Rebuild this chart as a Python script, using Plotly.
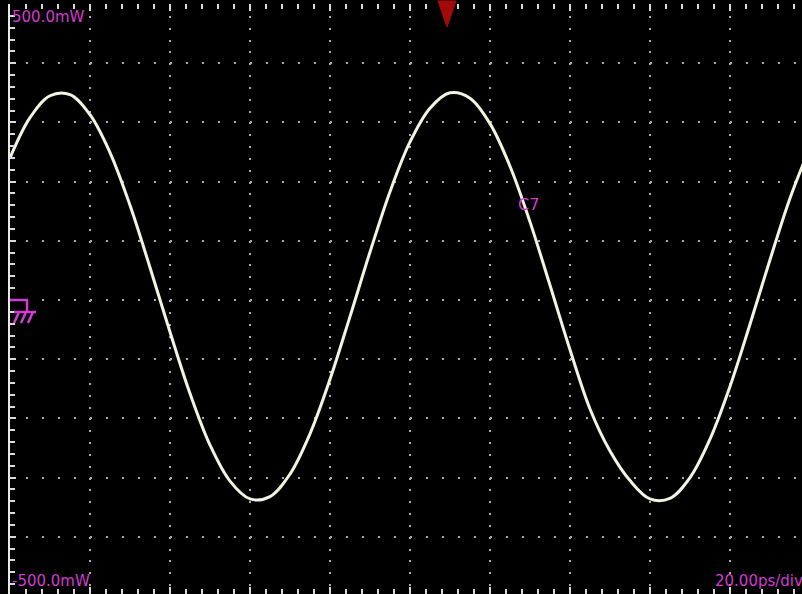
import plotly.graph_objects as go

# Waveform: time (ps) and power (mW)
time_ps = [0, 5, 10, 15, 20, 25, 30, 35, 40, 45, 50, 55, 60, 65, 70, 75, 80, 85, 90, 95,
           100, 105, 110, 115, 120, 125, 130, 135, 140, 145, 150, 155, 160, 165, 170, 175,
           180, 185, 190, 195, 200]
power_mw = [240, 308, 345, 347, 313, 249, 160, 55, -54, -158, -245, -306, -336, -332, -294,
            -226, -134, -28, 81, 183, 267, 324, 350, 341, 298, 226, 132, 25, -84, -184, -255,
            -305, -336, -335, -300, -235, -146, -41, 68, 172, 258]

TIME_PER_DIV = 20      # ps
POWER_PER_DIV = 100    # mW
TOP_LABEL = "500.0mW"
BOTTOM_LABEL = "-500.0mW"
TIMEBASE_LABEL = "20.00ps/div"
CHANNEL_LABEL = "C7"
TRIGGER_T = 109.25     # ps
GROUND_LEVEL = 0       # mW

MAGENTA = "#d23cd2"
GRID = "#acacac"
TICK = "#d8d8d8"
FONT = "DejaVu Sans"

fig = go.Figure()
fig.add_trace(go.Scatter(
    x=time_ps, y=power_mw, mode="lines",
    line=dict(color="#f4f4e2", width=3, shape="spline", smoothing=1.0),
    hoverinfo="skip",
))

fig.update_layout(
    width=802, height=594,
    margin=dict(l=10, r=0, t=4, b=0),
    paper_bgcolor="black", plot_bgcolor="black",
    showlegend=False,
    xaxis=dict(
        range=[0, 198], dtick=TIME_PER_DIV, tick0=0,
        showgrid=True, gridcolor=GRID, gridwidth=2, griddash="2px,9.84px",
        zeroline=False, showline=False, showticklabels=False,
        ticks="inside", ticklen=7, tickwidth=2, tickcolor=TICK, mirror="ticks",
        minor=dict(dtick=TIME_PER_DIV / 5, ticks="inside", ticklen=5, tickwidth=2,
                   tickcolor=TICK, showgrid=False),
        fixedrange=True,
    ),
    yaxis=dict(
        range=[-496.6, 500], dtick=POWER_PER_DIV, tick0=0,
        showgrid=True, gridcolor=GRID, gridwidth=2, griddash="2px,14px",
        zeroline=False, showline=True, linecolor="#e8e8e8", linewidth=2,
        showticklabels=False,
        ticks="inside", ticklen=6, tickwidth=2, tickcolor=TICK,
        minor=dict(dtick=POWER_PER_DIV / 5, ticks="inside", ticklen=5, tickwidth=2,
                   tickcolor=TICK, showgrid=False),
        fixedrange=True,
    ),
)

ann_font = dict(family=FONT, size=15, color=MAGENTA)
fig.add_annotation(text=TOP_LABEL, xref="paper", yref="paper", x=0.0, y=0.9966,
                   xanchor="left", yanchor="top", showarrow=False, font=ann_font)
fig.add_annotation(text=BOTTOM_LABEL, xref="paper", yref="paper", x=0.0, y=0.0034,
                   xanchor="left", yanchor="bottom", showarrow=False, font=ann_font)
fig.add_annotation(text=TIMEBASE_LABEL, xref="paper", yref="paper", x=0.888, y=0.0034,
                   xanchor="left", yanchor="bottom", showarrow=False, font=ann_font)
fig.add_annotation(text=CHANNEL_LABEL, xref="paper", yref="paper", x=0.639, y=0.680,
                   xanchor="left", yanchor="top", showarrow=False,
                   font=dict(family=FONT, size=16, color=MAGENTA))

# Ground marker (pixel-sized symbol anchored at ground level on the left edge)
fig.add_shape(type="path", xref="x", yref="y", xsizemode="pixel", ysizemode="pixel",
              xanchor=0, yanchor=GROUND_LEVEL,
              path=("M-2,0 L17,0 L17,-12 M4,-12 L26,-12 "
                    "M9,-12 L4,-23 M16,-12 L11,-23 M23,-12 L18,-23"),
              line=dict(color=MAGENTA, width=2.5))

# Trigger marker at the top
fig.add_shape(type="path", xref="x", yref="paper", xsizemode="pixel", ysizemode="pixel",
              xanchor=TRIGGER_T, yanchor=1,
              path="M-9,3 L9,3 L0,-23 Z",
              fillcolor="#a40a0a", line=dict(color="#a40a0a", width=1))

fig.write_html("out.html")
